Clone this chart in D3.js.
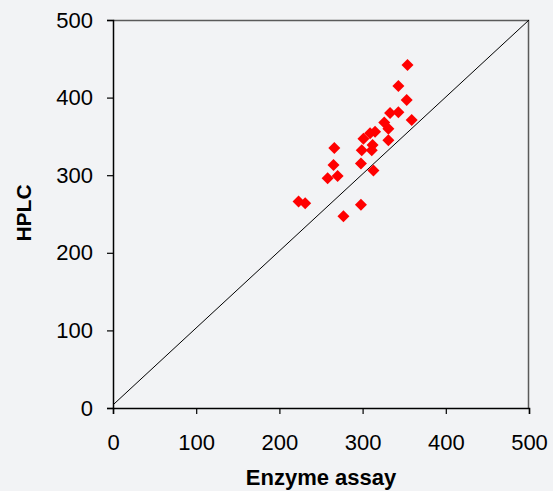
<!DOCTYPE html>
<html>
<head>
<meta charset="utf-8">
<script src="https://cdn.jsdelivr.net/npm/d3@7"></script>
<style>
  body { margin: 0; background: #f2f3f5; }
  svg { display: block; font-family: "Liberation Sans", Arial, sans-serif; }
</style>
</head>
<body>
<div id="chart"></div>
<script>
// Enzyme assay (x) vs HPLC (y)
var enzyme = [354, 343, 353, 333, 343, 359, 326, 331, 315, 309, 301, 331, 312, 299, 311,
              266, 298, 265, 313, 270, 258, 223, 231, 298, 277];
var hplc   = [442, 415, 397, 380, 381, 371, 368, 360, 356, 354, 347, 345, 339, 332, 332,
              335, 315, 313, 306, 299, 296, 266, 264, 262, 247];
var xTicks = [0, 100, 200, 300, 400, 500];
var yTicks = [0, 100, 200, 300, 400, 500];
var lineX = [0, 500];
var lineY = [4, 500];

var width = 553, height = 491;
var margin = { top: 20, right: 24, bottom: 83, left: 113 };
var w = width - margin.left - margin.right;
var h = height - margin.top - margin.bottom;

var svg = d3.select('#chart').append('svg')
    .attr('width', width)
    .attr('height', height);

var g = svg.append('g')
    .attr('transform', 'translate(' + margin.left + ',' + margin.top + ')');

var x = d3.scaleLinear().domain([0, 500]).range([0, w]);
var y = d3.scaleLinear().domain([0, 500]).range([h, 0]);

// box on the top and right
g.append('path')
    .attr('d', 'M0,0.5H' + (w - 0.5) + 'V' + h)
    .attr('fill', 'none')
    .attr('stroke', '#5a5a5a')
    .attr('stroke-width', 1.5);

// reference line
g.append('line')
    .attr('x1', x(lineX[0])).attr('y1', y(lineY[0]))
    .attr('x2', x(lineX[1])).attr('y2', y(lineY[1]))
    .attr('stroke', '#000')
    .attr('stroke-width', 1);

// axes
var xAxis = g.append('g')
    .attr('transform', 'translate(0,' + h + ')')
    .call(d3.axisBottom(x).tickValues(xTicks).tickSize(6).tickPadding(20));
var yAxis = g.append('g')
    .call(d3.axisLeft(y).tickValues(yTicks).tickSize(6).tickPadding(14));

[xAxis, yAxis].forEach(function (a) {
    a.select('.domain').attr('stroke', '#000').attr('stroke-width', 1.5);
    a.selectAll('.tick line').attr('stroke', '#000').attr('stroke-width', 1.2);
    a.selectAll('.tick text')
        .attr('fill', '#000')
        .style('font-size', '22px')
        .style('font-family', '"Liberation Sans", Arial, sans-serif');
});

// points (rotated squares)
var r = 6;
g.selectAll('.pt')
    .data(enzyme)
    .enter().append('path')
    .attr('class', 'pt')
    .attr('d', 'M0,' + (-r) + 'L' + r + ',0L0,' + r + 'L' + (-r) + ',0Z')
    .attr('transform', function (d, i) { return 'translate(' + x(d) + ',' + y(hplc[i]) + ')'; })
    .attr('fill', '#ff0000');

// axis titles
svg.append('text')
    .attr('x', margin.left + w / 2)
    .attr('y', 485)
    .attr('text-anchor', 'middle')
    .style('font-size', '22px')
    .style('font-weight', 'bold')
    .text('Enzyme assay');

svg.append('text')
    .attr('transform', 'translate(31,' + 213 + ') rotate(-90)')
    .attr('text-anchor', 'middle')
    .style('font-size', '21px')
    .style('font-weight', 'bold')
    .text('HPLC');
</script>
</body>
</html>
